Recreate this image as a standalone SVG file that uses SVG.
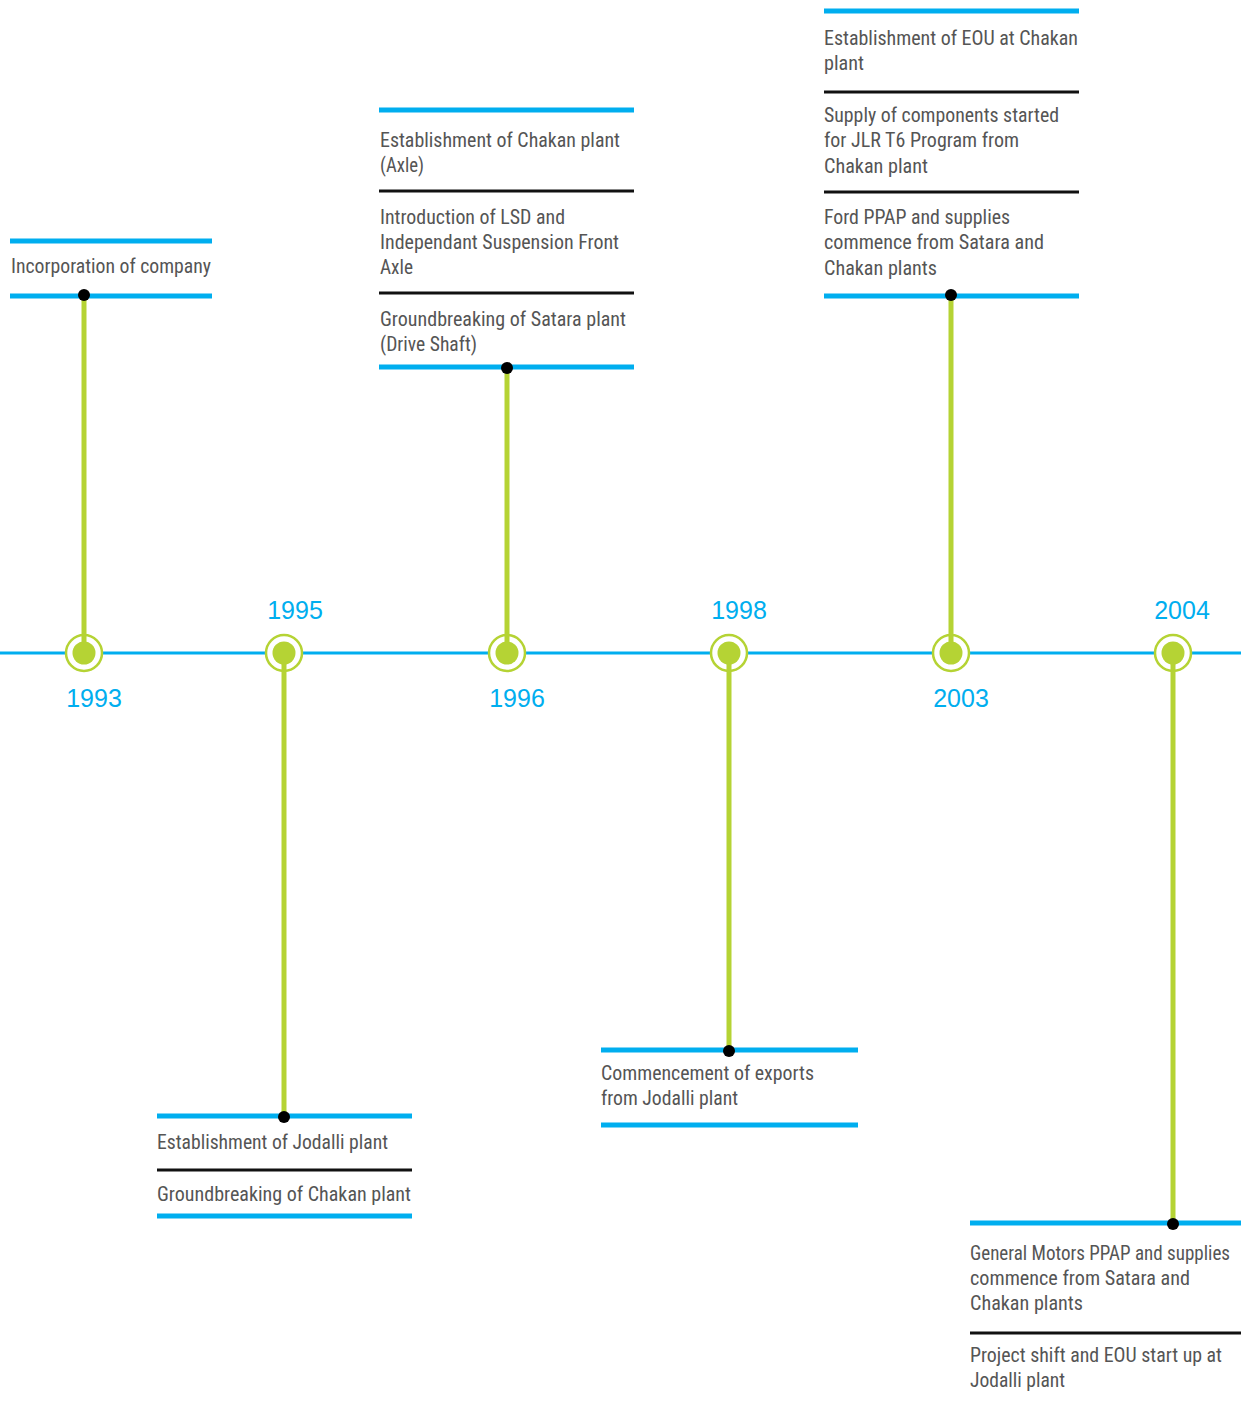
<svg xmlns="http://www.w3.org/2000/svg" width="1241" height="1404" viewBox="0 0 1241 1404">
  <style>
    .axis { stroke: #00aeef; stroke-width: 3; }
    .bar { stroke: #00aeef; stroke-width: 5; }
    .sep { stroke: #111111; stroke-width: 3; }
    .stem { stroke: #b5d334; stroke-width: 5; }
    .ring { fill: #ffffff; stroke: #b5d334; stroke-width: 2.5; }
    .core { fill: #b5d334; }
    .tip { fill: #000000; }
    .year { font-family: "Liberation Sans", Arial, sans-serif; font-size: 25px; fill: #00aeef; text-anchor: middle; }
    .txt { font-family: "Liberation Sans Narrow", "Roboto Condensed", "Liberation Sans", Arial, sans-serif; font-size: 21px; fill: #555555; }
  </style>

  <!-- main time axis -->
  <g id="timeline-axis">
    <line class="axis" x1="0" y1="653" x2="1241" y2="653"/>
  </g>

  <!-- year markers on the axis -->
  <g id="year-1993">
    <circle class="ring" cx="84" cy="653" r="18"/>
    <circle class="core" cx="84" cy="653" r="11.5"/>
    <text class="year" x="94" y="707">1993</text>
  </g>
  <g id="year-1995">
    <circle class="ring" cx="284" cy="653" r="18"/>
    <circle class="core" cx="284" cy="653" r="11.5"/>
    <text class="year" x="295" y="619">1995</text>
  </g>
  <g id="year-1996">
    <circle class="ring" cx="507" cy="653" r="18"/>
    <circle class="core" cx="507" cy="653" r="11.5"/>
    <text class="year" x="517" y="707">1996</text>
  </g>
  <g id="year-1998">
    <circle class="ring" cx="729" cy="653" r="18"/>
    <circle class="core" cx="729" cy="653" r="11.5"/>
    <text class="year" x="739" y="619">1998</text>
  </g>
  <g id="year-2003">
    <circle class="ring" cx="951" cy="653" r="18"/>
    <circle class="core" cx="951" cy="653" r="11.5"/>
    <text class="year" x="961" y="707">2003</text>
  </g>
  <g id="year-2004">
    <circle class="ring" cx="1173" cy="653" r="18"/>
    <circle class="core" cx="1173" cy="653" r="11.5"/>
    <text class="year" x="1182" y="619">2004</text>
  </g>

  <!-- stems from each year marker to its event list -->
  <g id="connectors">
    <line class="stem" x1="84" y1="295" x2="84" y2="653"/>
    <line class="stem" x1="284" y1="653" x2="284" y2="1116"/>
    <line class="stem" x1="507" y1="368" x2="507" y2="653"/>
    <line class="stem" x1="729" y1="653" x2="729" y2="1050"/>
    <line class="stem" x1="951" y1="295" x2="951" y2="653"/>
    <line class="stem" x1="1173" y1="653" x2="1173" y2="1223"/>
  </g>

  <!-- 1993 events -->
  <g id="events-1993">
    <line class="bar" x1="10" y1="241" x2="212" y2="241"/>
    <text class="txt" x="11" y="273" textLength="200" lengthAdjust="spacingAndGlyphs">Incorporation of company</text>
    <line class="bar" x1="10" y1="296" x2="212" y2="296"/>
    <circle class="tip" cx="84" cy="295" r="6"/>
  </g>

  <!-- 1995 events -->
  <g id="events-1995">
    <line class="bar" x1="157" y1="1116" x2="412" y2="1116"/>
    <circle class="tip" cx="284" cy="1117" r="6"/>
    <text class="txt" x="157" y="1149" textLength="231" lengthAdjust="spacingAndGlyphs">Establishment of Jodalli plant</text>
    <line class="sep" x1="157" y1="1170" x2="412" y2="1170"/>
    <text class="txt" x="157" y="1201" textLength="254" lengthAdjust="spacingAndGlyphs">Groundbreaking of Chakan plant</text>
    <line class="bar" x1="157" y1="1216" x2="412" y2="1216"/>
  </g>

  <!-- 1996 events -->
  <g id="events-1996">
    <line class="bar" x1="379" y1="110" x2="634" y2="110"/>
    <text class="txt" x="380" y="147" textLength="240" lengthAdjust="spacingAndGlyphs">Establishment of Chakan plant</text>
    <text class="txt" x="380" y="172" textLength="44" lengthAdjust="spacingAndGlyphs">(Axle)</text>
    <line class="sep" x1="379" y1="191" x2="634" y2="191"/>
    <text class="txt" x="380" y="224" textLength="185" lengthAdjust="spacingAndGlyphs">Introduction of LSD and</text>
    <text class="txt" x="380" y="249" textLength="239" lengthAdjust="spacingAndGlyphs">Independant Suspension Front</text>
    <text class="txt" x="380" y="274" textLength="33" lengthAdjust="spacingAndGlyphs">Axle</text>
    <line class="sep" x1="379" y1="293" x2="634" y2="293"/>
    <text class="txt" x="380" y="326" textLength="246" lengthAdjust="spacingAndGlyphs">Groundbreaking of Satara plant</text>
    <text class="txt" x="380" y="351" textLength="97" lengthAdjust="spacingAndGlyphs">(Drive Shaft)</text>
    <line class="bar" x1="379" y1="367" x2="634" y2="367"/>
    <circle class="tip" cx="507" cy="368" r="6"/>
  </g>

  <!-- 1998 events -->
  <g id="events-1998">
    <line class="bar" x1="601" y1="1050" x2="858" y2="1050"/>
    <circle class="tip" cx="729" cy="1051" r="6"/>
    <text class="txt" x="601" y="1080" textLength="213" lengthAdjust="spacingAndGlyphs">Commencement of exports</text>
    <text class="txt" x="601" y="1105" textLength="137" lengthAdjust="spacingAndGlyphs">from Jodalli plant</text>
    <line class="bar" x1="601" y1="1125" x2="858" y2="1125"/>
  </g>

  <!-- 2003 events -->
  <g id="events-2003">
    <line class="bar" x1="824" y1="11" x2="1079" y2="11"/>
    <text class="txt" x="824" y="45" textLength="254" lengthAdjust="spacingAndGlyphs">Establishment of EOU at Chakan</text>
    <text class="txt" x="824" y="70" textLength="40" lengthAdjust="spacingAndGlyphs">plant</text>
    <line class="sep" x1="824" y1="92" x2="1079" y2="92"/>
    <text class="txt" x="824" y="122" textLength="235" lengthAdjust="spacingAndGlyphs">Supply of components started</text>
    <text class="txt" x="824" y="147" textLength="195" lengthAdjust="spacingAndGlyphs">for JLR T6 Program from</text>
    <text class="txt" x="824" y="173" textLength="104" lengthAdjust="spacingAndGlyphs">Chakan plant</text>
    <line class="sep" x1="824" y1="192" x2="1079" y2="192"/>
    <text class="txt" x="824" y="224" textLength="186" lengthAdjust="spacingAndGlyphs">Ford PPAP and supplies</text>
    <text class="txt" x="824" y="249" textLength="220" lengthAdjust="spacingAndGlyphs">commence from Satara and</text>
    <text class="txt" x="824" y="275" textLength="113" lengthAdjust="spacingAndGlyphs">Chakan plants</text>
    <line class="bar" x1="824" y1="296" x2="1079" y2="296"/>
    <circle class="tip" cx="951" cy="295" r="6"/>
  </g>

  <!-- 2004 events -->
  <g id="events-2004">
    <line class="bar" x1="970" y1="1223" x2="1241" y2="1223"/>
    <circle class="tip" cx="1173" cy="1224" r="6"/>
    <text class="txt" x="970" y="1260" textLength="260" lengthAdjust="spacingAndGlyphs">General Motors PPAP and supplies</text>
    <text class="txt" x="970" y="1285" textLength="220" lengthAdjust="spacingAndGlyphs">commence from Satara and</text>
    <text class="txt" x="970" y="1310" textLength="113" lengthAdjust="spacingAndGlyphs">Chakan plants</text>
    <line class="sep" x1="970" y1="1333" x2="1241" y2="1333"/>
    <text class="txt" x="970" y="1362" textLength="252" lengthAdjust="spacingAndGlyphs">Project shift and EOU start up at</text>
    <text class="txt" x="970" y="1387" textLength="95" lengthAdjust="spacingAndGlyphs">Jodalli plant</text>
  </g>
</svg>
